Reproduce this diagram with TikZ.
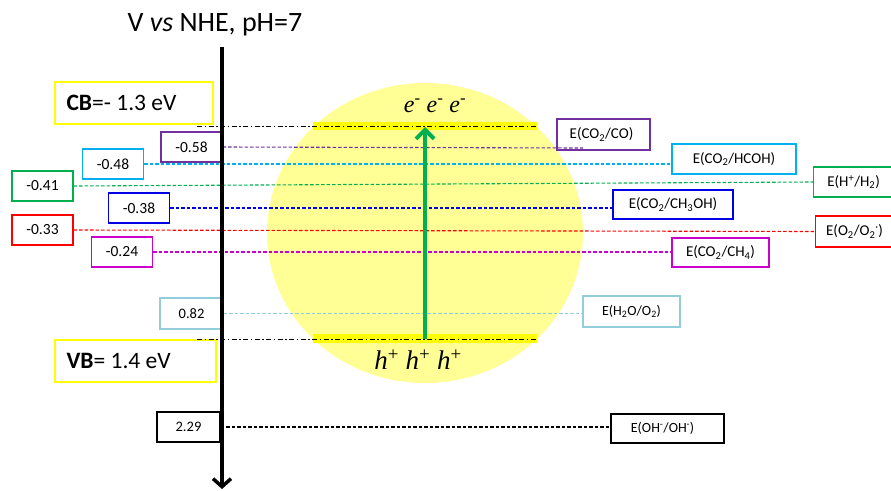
\documentclass[tikz,border=0pt]{standalone}
\usepackage{fontspec}
\setmainfont{Carlito}
\newfontfamily\tms{Liberation Serif}
\usetikzlibrary{arrows.meta}
\definecolor{cpurple}{RGB}{112,48,160}
\definecolor{ccyan}{RGB}{0,176,240}
\definecolor{cgreen}{RGB}{0,176,80}
\definecolor{cblue}{RGB}{0,0,230}
\definecolor{cred}{RGB}{255,0,0}
\definecolor{cmag}{RGB}{204,0,204}
\definecolor{clblue}{RGB}{146,205,220}
\definecolor{cyellow}{RGB}{255,255,0}
\definecolor{lyellow}{RGB}{255,255,150}
\tikzset{
  numbox/.style={draw=#1, line width=1.2pt, fill=white, minimum width=61pt, minimum height=30pt, inner sep=0pt, font=\fontsize{15.5}{17}\selectfont},
  ebox/.style={draw=#1, line width=1.2pt, minimum height=30pt, inner sep=0pt, font=\fontsize{15}{17}\selectfont},
  level/.style={draw=#1, line width=1.1pt, dash pattern=on 3.5pt off 2pt},
  bandline/.style={draw=black, line width=0.9pt, dash pattern=on 5pt off 2.5pt on 1.5pt off 2.5pt},
  gapbox/.style={draw=cyellow, line width=1.5pt, fill=white, minimum width=158pt, minimum height=42pt, inner sep=0pt}
}
\begin{document}
\begin{tikzpicture}[x=1pt,y=-1pt]
\useasboundingbox (0,0) rectangle (891,490);
% bulb
\fill[lyellow] (425,233) ellipse [x radius=158, y radius=150];
% yellow bands
\fill[cyellow] (313,122) rectangle (537,130);
\fill[cyellow] (313,334) rectangle (537,343);
% title
\node (title) at (215,25) {\fontsize{28}{30}\selectfont V \textit{vs} NHE, pH=7};
% band boxes
\node[gapbox] (cb) at (134,103) {};
\node[anchor=west, font=\fontsize{23.5}{25}\selectfont] (cbt) at (63,103) {\textbf{CB}=- 1.3 eV};
\node[gapbox, minimum width=161pt] (vb) at (135.5,361) {};
\node[anchor=west, font=\fontsize{23.5}{25}\selectfont] (vbt) at (63,361) {\textbf{VB}= 1.4 eV};
% band lines
\coordinate (cbl) at (197,126);
\coordinate (cbr) at (537,126);
\coordinate (vbl) at (197,339);
\coordinate (vbr) at (537,339);
\draw[bandline] (cbl) -- (cbr);
\draw[bandline] (vbl) -- (vbr);
% carriers
\node[font=\tms\fontsize{24}{26}\selectfont] (el) at (435,106) {\textit{e}\textsuperscript{-} \textit{e}\textsuperscript{-} \textit{e}\textsuperscript{-}};
\node[font=\tms\fontsize{27}{29}\selectfont] (ho) at (418,360) {\textit{h}\textsuperscript{+} \textit{h}\textsuperscript{+} \textit{h}\textsuperscript{+}};
% number boxes
\node[numbox=cpurple] (m058) at (191.5,147) {-0.58};
\node[numbox=ccyan] (m048) at (113,164) {-0.48};
\node[numbox=cgreen] (m041) at (42.5,186) {-0.41};
\node[numbox=cblue] (m038) at (139,208) {-0.38};
\node[numbox=cred] (m033) at (42.5,230) {-0.33};
\node[numbox=cmag] (m024) at (122,252) {-0.24};
\node[numbox=clblue, minimum width=63pt, minimum height=31pt, font=\fontsize{14.5}{16}\selectfont] (p082) at (191.5,313.5) {0.82};
\node[numbox=black, minimum width=63pt, font=\fontsize{14.5}{16}\selectfont] (p229) at (188.5,427) {2.29};
% E boxes
\node[ebox=cpurple, minimum width=93pt, minimum height=31pt] (eCO) at (603.5,134.5) {\hspace*{-4pt}E(CO\textsubscript{2}/CO)};
\node[ebox=ccyan, minimum width=124pt] (eHCOH) at (734,159) {E(CO\textsubscript{2}/HCOH)};
\node[ebox=cgreen, minimum width=92pt, anchor=west] (eH2) at (813,182) {\hspace*{-12pt}E(H\textsuperscript{+}/H\textsubscript{2})};
\node[ebox=cblue, minimum width=120pt, minimum height=29pt] (eCH3OH) at (673,204.5) {E(CO\textsubscript{2}/CH\textsubscript{3}OH)};
\node[ebox=cred, minimum width=92pt, minimum height=31pt, anchor=west] (eO2) at (815,231.5) {\hspace*{-14pt}E(O\textsubscript{2}/O\textsubscript{2}\textsuperscript{·})};
\node[ebox=cmag, minimum width=97pt, minimum height=29pt] (eCH4) at (720.5,252.5) {E(CO\textsubscript{2}/CH\textsubscript{4})};
\node[ebox=clblue, minimum width=97pt, minimum height=31pt, font=\fontsize{14}{16}\selectfont] (eH2O) at (631.5,311.5) {E(H\textsubscript{2}O/O\textsubscript{2})};
\node[ebox=black, minimum width=113pt, minimum height=29pt, font=\fontsize{14}{16}\selectfont] (eOH) at (667.5,428.5) {\hspace*{-10pt}E(OH\textsuperscript{-}/OH\textsuperscript{·})};
% level lines
\coordinate (coend) at (583,148);
\draw[level=cpurple] (m058.east) -- (coend);
\draw[level=ccyan] (m048.east) -- (m048.east -| eHCOH.west);
\draw[level=cgreen] (m041.east) -- (eH2.west);
\draw[level=cblue] (m038.east) -- (m038.east -| eCH3OH.west);
\draw[level=cred] (m033.east) -- (eO2.west);
\draw[level=cmag] (m024.east) -- (m024.east -| eCH4.west);
\draw[level=clblue] (p082.east) -- (p082.east -| eH2O.west);
\draw[level=black] (p229.east) -- (p229.east -| eOH.west);
% green arrow
\coordinate (ga0) at (425,339);
\coordinate (ga1) at (425,127);
\draw[cgreen, line width=4pt, -{Straight Barb[length=9pt, width=18pt, line width=4pt]}] (ga0) -- (ga1);
% axis
\coordinate (ax0) at (222,47);
\coordinate (ax1) at (222,489);
\draw[black, line width=4pt, -{Straight Barb[length=8pt, width=18pt, line width=3.5pt]}] (ax0) -- (ax1);
\end{tikzpicture}
\end{document}
